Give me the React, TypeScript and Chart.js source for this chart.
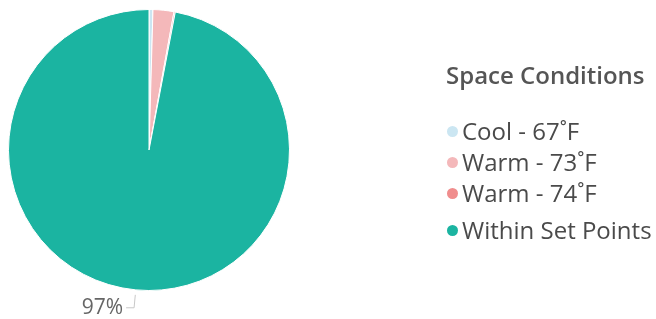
import React, { useEffect, useRef } from "react";
import { Chart, registerables } from "chart.js";

Chart.register(...registerables);

const legendTitle = "Space Conditions";
const categories = ["Cool - 67˚F", "Warm - 73˚F", "Warm - 74˚F", "Within Set Points"];
const values = [0.45, 2.4, 0.15, 97.0];
const colors = ["#CBE6F2", "#F4B8BA", "#F08D8D", "#1BB4A1"];
const labeledIndex = 3;

const FONT = "'Open Sans', 'Noto Sans', sans-serif";

const labelPlugin = {
  id: "pieLabel",
  afterDraw(chart: any) {
    const meta = chart.getDatasetMeta(0);
    const arc = meta.data[labeledIndex];
    if (!arc) return;
    const { x, y, startAngle, endAngle, outerRadius } = arc.getProps(
      ["x", "y", "startAngle", "endAngle", "outerRadius"],
      true
    );
    const mid = (startAngle + endAngle) / 2;
    const dx = Math.cos(mid);
    const dy = Math.sin(mid);
    const p1x = x + dx * (outerRadius + 5);
    const p1y = y + dy * (outerRadius + 5);
    const p2x = x + dx * (outerRadius + 18);
    const p2y = y + dy * (outerRadius + 18);
    const p3x = p2x - 8;
    const ctx = chart.ctx;
    ctx.save();
    ctx.strokeStyle = "#C8C8C8";
    ctx.lineWidth = 1;
    ctx.beginPath();
    ctx.moveTo(p1x, p1y);
    ctx.lineTo(p2x, p2y);
    ctx.lineTo(p3x, p2y);
    ctx.stroke();
    const total = values.reduce((a, b) => a + b, 0);
    const pct = Math.round((values[labeledIndex] / total) * 100) + "%";
    ctx.fillStyle = "#666666";
    ctx.font = `21px ${FONT}`;
    ctx.textAlign = "right";
    ctx.textBaseline = "middle";
    ctx.fillText(pct, p3x - 3, p2y);
    ctx.restore();
  },
};

export default function App() {
  const ref = useRef<HTMLCanvasElement>(null);

  useEffect(() => {
    document.body.style.margin = "0";
    const chart = new Chart(ref.current!, {
      type: "pie",
      data: {
        labels: categories,
        datasets: [
          {
            data: values,
            backgroundColor: colors,
            borderColor: "#FFFFFF",
            borderWidth: 1,
          },
        ],
      },
      options: {
        animation: false,
        responsive: false,
        maintainAspectRatio: false,
        layout: { padding: { left: 8, top: 9, right: 366, bottom: 28 } },
        plugins: {
          legend: { display: false },
          tooltip: { enabled: false },
        },
      },
      plugins: [labelPlugin],
    });
    return () => chart.destroy();
  }, []);

  const itemTops = [131, 162, 193, 230];

  return (
    <div style={{ position: "relative", width: 656, height: 319, background: "#fff", overflow: "hidden" }}>
      <canvas ref={ref} width={656} height={319} style={{ position: "absolute", left: 0, top: 0 }} />
      <div
        style={{
          position: "absolute",
          left: 446,
          top: 75,
          transform: "translateY(-50%)",
          fontFamily: FONT,
          fontWeight: 600,
          fontSize: 24,
          color: "#555555",
          whiteSpace: "nowrap",
          lineHeight: 1,
        }}
      >
        {legendTitle}
      </div>
      {categories.map((c, i) => (
        <div
          key={c}
          style={{
            position: "absolute",
            left: 447,
            top: itemTops[i],
            transform: "translateY(-50%)",
            display: "flex",
            alignItems: "center",
            fontFamily: FONT,
            fontSize: 24,
            color: "#4A4A4A",
            whiteSpace: "nowrap",
            lineHeight: 1,
          }}
        >
          <span
            style={{
              display: "inline-block",
              width: 11,
              height: 11,
              borderRadius: "50%",
              background: colors[i],
              marginRight: 4,
            }}
          />
          <span>{c}</span>
        </div>
      ))}
    </div>
  );
}
